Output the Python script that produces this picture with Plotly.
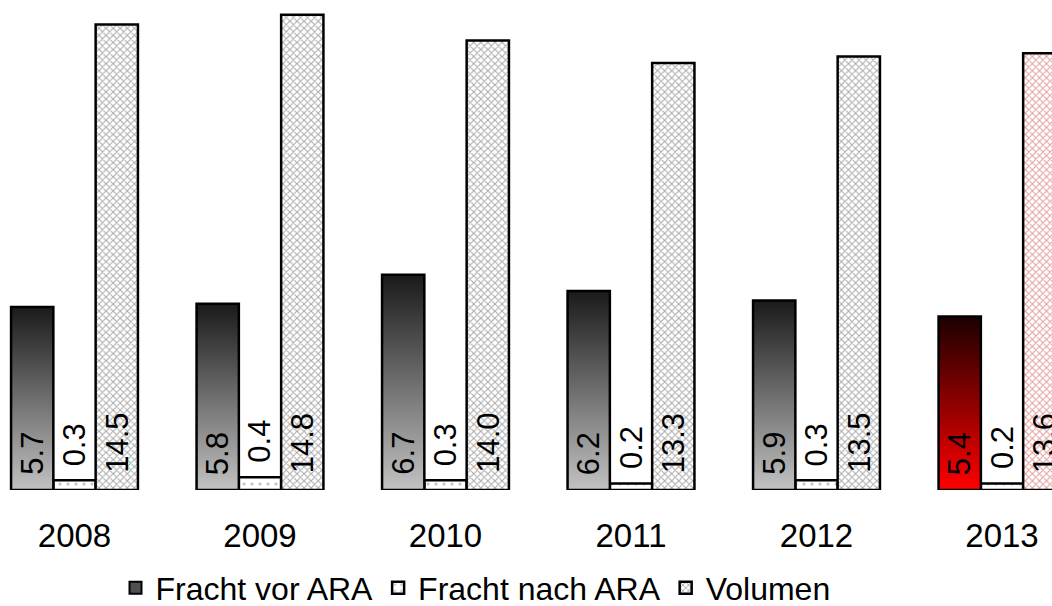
import plotly.graph_objects as go

years = ["2008", "2009", "2010", "2011", "2012", "2013"]
fracht_vor = [5.7, 5.8, 6.7, 6.2, 5.9, 5.4]
fracht_nach = [0.3, 0.4, 0.3, 0.2, 0.3, 0.2]
volumen = [14.5, 14.8, 14.0, 13.3, 13.5, 13.6]

FONT = "Arial, 'Liberation Sans', sans-serif"
LABEL_SIZE = 31
idx = list(range(len(years)))
w = 0.228  # bar width in category units

fig = go.Figure()

# legend entry for the gradient series
fig.add_trace(go.Bar(
    x=[None], y=[None], name="Fracht vor ARA",
    marker=dict(color="#505050", line=dict(color="black", width=2)),
    legendgroup="vor", hoverinfo="skip",
))

# Fracht vor ARA: gradient-filled bars (one filled polygon per year)
for i, v in enumerate(fracht_vor):
    last = (i == len(years) - 1)
    x0 = i - 1.5 * w
    x1 = i - 0.5 * w
    cs = [[0, "#ff0000"], [1, "#1c0000"]] if last else [[0, "#c2c2c2"], [1, "#1a1a1a"]]
    fig.add_trace(go.Scatter(
        x=[x0, x0, x1, x1, x0], y=[0, v, v, 0, 0],
        mode="lines", fill="toself",
        fillgradient=dict(type="vertical", colorscale=cs),
        line=dict(color="black", width=2.5),
        name="Fracht vor ARA", legendgroup="vor", showlegend=False,
        hoverinfo="skip",
    ))

fig.add_trace(go.Bar(
    x=idx, y=fracht_nach, width=w, offset=-0.5 * w,
    name="Fracht nach ARA",
    marker=dict(color="white", line=dict(color="black", width=2.5),
                pattern=dict(shape=".", fgcolor="#888888", bgcolor="white",
                             size=8, solidity=0.12, fillmode="overlay")),
))

vol_fg = ["#555555"] * (len(years) - 1) + ["#c83c3c"]
fig.add_trace(go.Bar(
    x=idx, y=volumen, width=w, offset=0.5 * w,
    name="Volumen",
    marker=dict(color="white", line=dict(color="black", width=2.5),
                pattern=dict(shape="x", fgcolor=vol_fg, bgcolor="white",
                             size=5, solidity=0.38, fillmode="overlay")),
))

# value labels (rotated)
def add_label(x, y, v, shift):
    fig.add_annotation(x=x, y=y, text=f"{v:.1f}", textangle=-90,
                       xanchor="center", yanchor="bottom", yshift=shift,
                       showarrow=False,
                       font=dict(family=FONT, size=LABEL_SIZE, color="black"))

for i in idx:
    add_label(i - w, 0, fracht_vor[i], 13)
    add_label(i, fracht_nach[i], fracht_nach[i], 12)
    add_label(i + w, 0, volumen[i], 15)

fig.update_layout(
    width=1052, height=606,
    margin=dict(l=0, r=0, t=0, b=116, autoexpand=False),
    plot_bgcolor="white", paper_bgcolor="white",
    font=dict(family=FONT, color="black"),
    showlegend=True,
    legend=dict(orientation="h", x=0.452, xanchor="center", y=-0.2, yanchor="middle",
                font=dict(family=FONT, size=32, color="black"),
                traceorder="normal", itemwidth=30),
    xaxis=dict(range=[-0.4016, 5.2695], tickvals=idx, ticktext=years,
               showgrid=False, zeroline=False, showline=False, ticks="",
               tickfont=dict(family=FONT, size=33, color="black"),
               ticklabelstandoff=23),
    yaxis=dict(range=[0, 15.26], visible=False, showgrid=False, zeroline=False),
)

fig.write_html("out.html", config={"displayModeBar": False},
               post_script="document.body.style.margin='0';document.body.style.overflow='hidden';")
